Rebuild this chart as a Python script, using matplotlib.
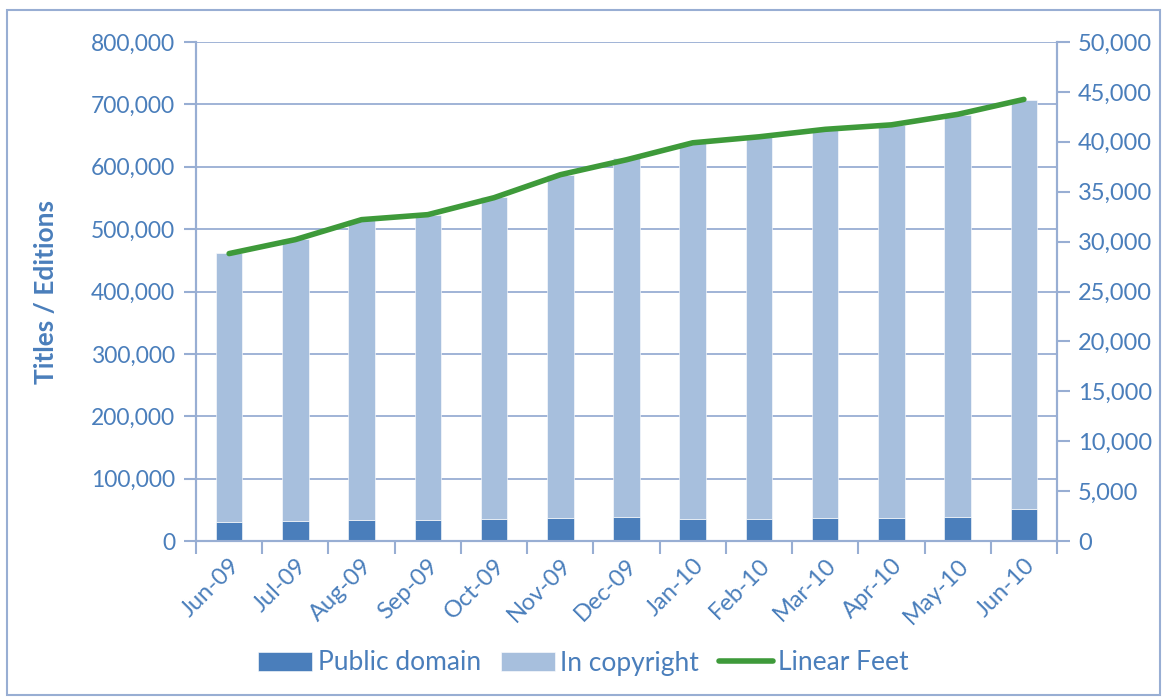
#!/usr/bin/env python3
"""Titles / editions and linear feet, Jun-09 to Jun-10"""

import numpy as np
import matplotlib
matplotlib.use('Agg')
import matplotlib.pyplot as plt
from matplotlib.patches import Rectangle
from matplotlib.ticker import FuncFormatter, FixedLocator

months = ['Jun-09', 'Jul-09', 'Aug-09', 'Sep-09', 'Oct-09', 'Nov-09', 'Dec-09',
          'Jan-10', 'Feb-10', 'Mar-10', 'Apr-10', 'May-10', 'Jun-10']
public_domain = [30500, 32500, 34000, 34000, 36000, 37500, 38500,
                 35000, 35500, 37000, 37000, 39000, 51500]
total_titles = [461000, 484000, 515000, 523000, 552000, 587000, 614000,
                638000, 647000, 659000, 667000, 683000, 707000]
in_copyright = [t - p for t, p in zip(total_titles, public_domain)]
linear_feet = [28800, 30200, 32200, 32700, 34400, 36700, 38200,
               39900, 40500, 41250, 41700, 42750, 44250]

TXT = '#4a7ebb'
GRID = '#98aed3'
DARK = '#4a7ebb'
LIGHT = '#a7bfdd'
GREEN = '#3e9a3a'

plt.rcParams['font.family'] = ['Lato', 'DejaVu Sans']

fig = plt.figure(figsize=(11.67, 7.0), dpi=100)
fig.patches.append(Rectangle((7 / 1167, 5 / 700), 1153 / 1167, 685 / 700,
                             transform=fig.transFigure, fill=False,
                             edgecolor=GRID, linewidth=1.5))
ax = fig.add_axes([196 / 1167, 1 - 541 / 700, (1057 - 196) / 1167, (541 - 42) / 700])
ax2 = ax.twinx()

x = np.arange(len(months))
w = 0.4
ax.bar(x, public_domain, w, color=DARK, edgecolor='white', linewidth=0.4,
       label='Public domain', zorder=3)
ax.bar(x, in_copyright, w, bottom=public_domain, color=LIGHT, edgecolor='white',
       linewidth=0.4, label='In copyright', zorder=3)
ax2.plot(x, linear_feet, color=GREEN, linewidth=4, solid_capstyle='round',
         label='Linear Feet')

ax.set_xlim(-0.5, len(months) - 0.5)
ax.set_ylim(0, 800000)
ax2.set_ylim(0, 50000)
ax.set_yticks(np.arange(0, 800001, 100000))
ax2.set_yticks(np.arange(0, 50001, 5000))
fmt = FuncFormatter(lambda v, p: '{:,.0f}'.format(v))
ax.yaxis.set_major_formatter(fmt)
ax2.yaxis.set_major_formatter(fmt)
ax.yaxis.grid(True, color=GRID, linewidth=1.3, zorder=0)
ax.set_axisbelow(True)

ax.set_xticks(x)
ax.set_xticklabels(months, rotation=45, ha='right', rotation_mode='anchor')
ax.tick_params(axis='x', which='major', length=0, labelsize=17, labelcolor=TXT, pad=10)
ax.xaxis.set_minor_locator(FixedLocator(np.arange(-0.5, len(months), 1.0)))
ax.tick_params(axis='x', which='minor', length=9, width=1.5, color=GRID, direction='out')
ax.tick_params(axis='y', length=9, width=1.5, color=GRID, labelsize=16.5,
               labelcolor=TXT, pad=6)
ax2.tick_params(axis='y', length=9, width=1.5, color=GRID, labelsize=17,
                labelcolor=TXT, pad=6)

for a in (ax, ax2):
    a.spines['top'].set_visible(False)
    for s in ('left', 'right', 'bottom'):
        a.spines[s].set_color(GRID)
        a.spines[s].set_linewidth(1.5)

ax.set_ylabel('Titles / Editions', fontsize=19, fontweight='bold', color=TXT)
ax.yaxis.set_label_coords(-(196 - 58) / 861, 0.5)

h1, l1 = ax.get_legend_handles_labels()
h2, l2 = ax2.get_legend_handles_labels()
fig.legend(h1 + h2, l1 + l2, loc='center', bbox_to_anchor=(0.5, 1 - 663 / 700),
           ncol=3, frameon=False, fontsize=19, labelcolor=TXT, handlelength=2.05,
           handletextpad=0.2, columnspacing=0.75)

fig.savefig('out.png', dpi=100)
